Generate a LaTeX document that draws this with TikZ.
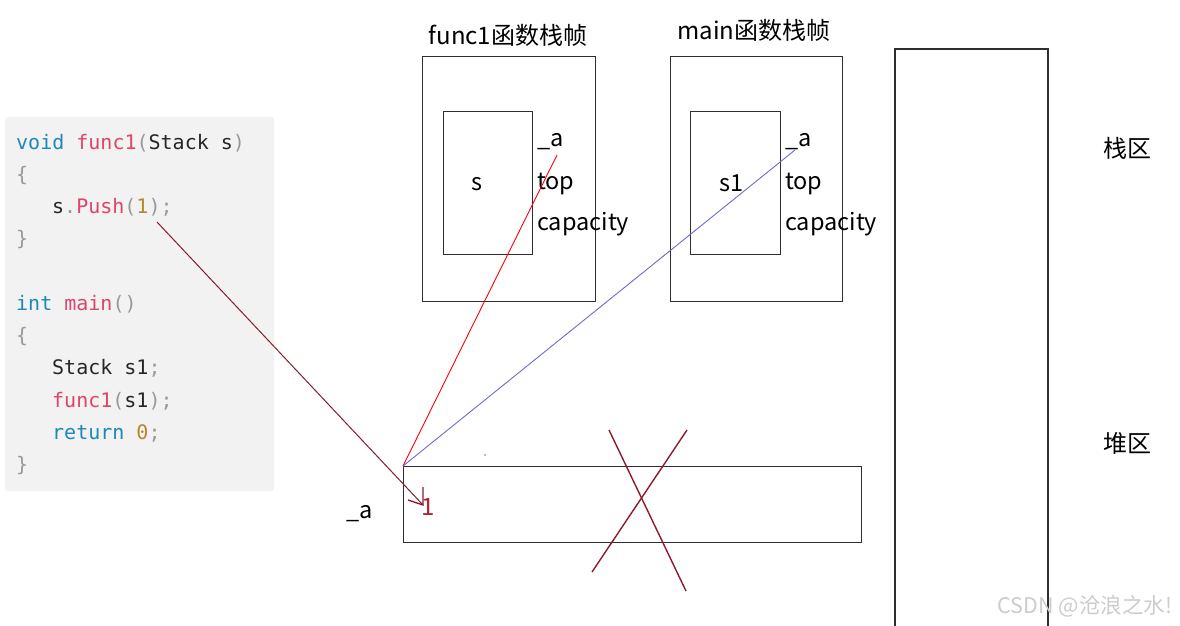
\documentclass[tikz,border=0pt]{standalone}
\usepackage{fontspec}
\setmainfont{Noto Sans CJK SC}
\setmonofont{DejaVu Sans Mono}
\definecolor{kw}{HTML}{1E88B8}
\definecolor{fn}{HTML}{E0446A}
\definecolor{num}{HTML}{B8862B}
\definecolor{pun}{HTML}{999999}
\definecolor{txt}{HTML}{262626}
\definecolor{panel}{HTML}{F2F2F2}
\definecolor{frame}{HTML}{2E2E2E}
\definecolor{dred}{HTML}{8B1A2B}
\definecolor{onered}{HTML}{B0202E}
\definecolor{lblue}{HTML}{6A6AD8}
\newcommand{\K}[1]{\textcolor{kw}{#1}}
\newcommand{\F}[1]{\textcolor{fn}{#1}}
\newcommand{\N}[1]{\textcolor{num}{#1}}
\newcommand{\Pu}[1]{\textcolor{pun}{#1}}
\begin{document}
\begin{tikzpicture}[x=1pt,y=-1pt,
  box/.style={draw=frame,line width=1.4pt,inner sep=0pt,anchor=north west},
  code/.style={anchor=base west,inner sep=0pt,font=\ttfamily\fontsize{20}{24}\selectfont,text=txt},
  lbl/.style={anchor=base west,inner sep=0pt,font=\fontsize{23.5}{27}\selectfont},
  ttl/.style={anchor=base,inner sep=0pt,font=\fontsize{24}{28}\selectfont}]
\useasboundingbox (0,0) rectangle (1180,626);
% code panel
\node[anchor=north west,fill=panel,rounded corners=3pt,minimum width=269pt,minimum height=374pt,inner sep=0pt] (panel) at (5,117) {};
\node[code] (c1) at (16,149) {\K{void} \F{func1}\Pu{(}Stack s\Pu{)}};
\node[code] (c2) at (16,181) {\Pu{\{}};
\node[code] (c3) at (52,213) {s\Pu{.}\F{Push}\Pu{(}\N{1}\Pu{);}};
\node[code] (c4) at (16,245) {\Pu{\}}};
\node[code] (c5) at (16,310) {\K{int} \F{main}\Pu{()}};
\node[code] (c6) at (16,342) {\Pu{\{}};
\node[code] (c7) at (52,374) {Stack s1\Pu{;}};
\node[code] (c8) at (52,407) {\F{func1}\Pu{(}s1\Pu{);}};
\node[code] (c9) at (52,439) {\K{return} \N{0}\Pu{;}};
\node[code] (c10) at (16,471) {\Pu{\}}};
% func1 frame
\node[ttl] (t1) at (508,45) {func1函数栈帧};
\node[box,minimum width=173pt,minimum height=245pt] (f1) at (422,56) {};
\node[box,minimum width=89pt,minimum height=143pt] (s) at (443,111) {};
\node[anchor=center,font=\fontsize{23.5}{27}\selectfont] (sl) at (477,184) {s};
\node[lbl] (fa) at (537,146) {\_a};
\node[lbl] (ft) at (537,189) {top};
\node[lbl] (fc) at (537,230) {capacity};
% main frame
\node[ttl] (t2) at (754,40) {main函数栈帧};
\node[box,minimum width=172pt,minimum height=245pt] (f2) at (670,56) {};
\node[box,minimum width=90pt,minimum height=143pt] (s1) at (690,111) {};
\node[anchor=center,font=\fontsize{23.5}{27}\selectfont] (s1l) at (732,183) {s1};
\node[lbl] (ma) at (785,146) {\_a};
\node[lbl] (mt) at (785,189) {top};
\node[lbl] (mc) at (785,230) {capacity};
% stack column
\draw[frame,line width=1.4pt] (895,630) -- (895,49) -- (1048,49) -- (1048,630);
\node[font=\fontsize{24}{28}\selectfont] (zq) at (1127,148) {栈区};
\node[font=\fontsize{24}{28}\selectfont] (dq) at (1127,443) {堆区};
% heap block
\node[box,minimum width=458pt,minimum height=76pt] (heap) at (403,466) {};
\node[lbl] (ha) at (346,518) {\_a};
\node[anchor=base west,inner sep=0pt,text=onered,font=\fontsize{24}{28}\selectfont] (one) at (421,515) {1};
% pointers
\coordinate (fae) at (557,155);
\coordinate (mae) at (795,150);
\coordinate (pushe) at (157,222);
\coordinate (tip) at (423,505);
\draw[red,line width=0.9pt] (heap.north west) -- (fae);
\draw[lblue,line width=0.9pt] (heap.north west) -- (mae);
\draw[dred,line width=1pt] (pushe) -- (tip);
\draw[dred,line width=1.4pt] (423,487) -- (tip) -- (408,500);
\fill[lblue] (485,455) circle (0.8);
% cross
\draw[dred,line width=1.4pt] (609,430) -- (686,591);
\draw[dred,line width=1.4pt] (687,430) -- (592,572);
% watermark
\node[text=gray!40,font=\fontsize{21.5}{25}\selectfont] (wm) at (1085,606) {CSDN @沧浪之水!};
\end{tikzpicture}
\end{document}
